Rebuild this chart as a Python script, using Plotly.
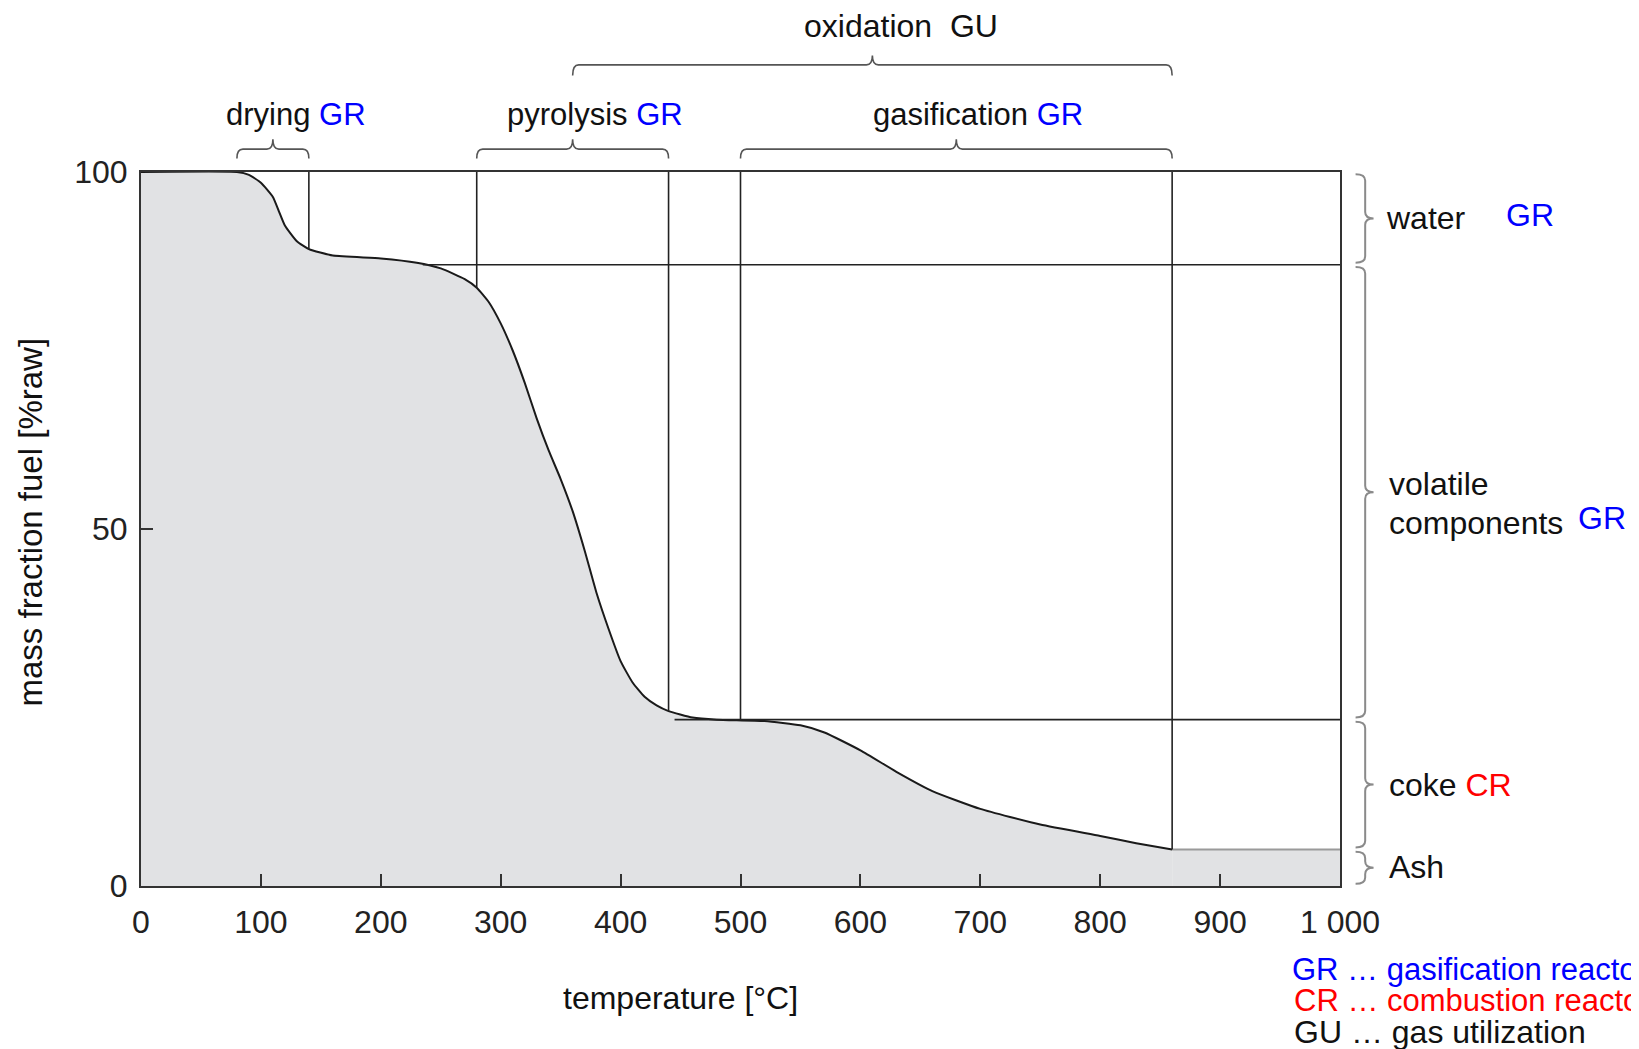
import numpy as np
import plotly.graph_objects as go

# ---- data ----
temp = [0, 80, 90, 100, 110, 115, 120, 130, 140, 160, 200, 230, 250, 270, 280, 290, 300,
        310, 320, 330, 340, 350, 360, 370, 380, 390, 400, 410, 420, 430, 440, 460, 480,
        520, 550, 570, 600, 630, 660, 700, 750, 800, 830, 860]
mass = [100, 100, 99.6, 98.5, 96.5, 94.5, 92.5, 90.3, 89.2, 88.3, 87.9, 87.3, 86.5, 85, 83.8,
        81.8, 78.8, 75, 70.5, 65.5, 61, 57, 52.5, 47, 41, 36, 31.5, 28.5, 26.5, 25.3, 24.5,
        23.6, 23.3, 23.1, 22.5, 21.5, 19, 16, 13.3, 10.8, 8.6, 7, 6, 5.1]
ash_temp = [860, 1000]
ash_mass = [5.1, 5.1]

x_ticks = [0, 100, 200, 300, 400, 500, 600, 700, 800, 900, 1000]
x_ticktext = ["0", "100", "200", "300", "400", "500", "600", "700", "800", "900", "1 000"]
y_ticks = [0, 50, 100]

boundary_temps = [140, 280, 440, 500, 860]
level_values = [87, 23.3]
level_starts = [235, 445]

phase_names = ["drying", "pyrolysis", "gasification"]
phase_ranges = [(80, 140), (280, 440), (500, 860)]
oxidation_range = (360, 860)

fraction_names = ["water", "volatile components", "coke", "Ash"]
fraction_bounds = [100, 87, 23.3, 5.1, 0]

FONT = "Liberation Sans, Arial, sans-serif"
BLUE = "#0000ff"
RED = "#ff0000"
FS = 32

fig = go.Figure()
fig.add_trace(go.Scatter(x=temp, y=mass, mode="lines",
                         line=dict(color="#1a1a1a", width=2, shape="spline", smoothing=0.5),
                         fill="tozeroy", fillcolor="#e1e2e4", showlegend=False, hoverinfo="skip"))
fig.add_trace(go.Scatter(x=ash_temp, y=ash_mass, mode="lines",
                         line=dict(color="#9a9a9a", width=2),
                         fill="tozeroy", fillcolor="#e1e2e4", showlegend=False, hoverinfo="skip"))

shapes = []
# vertical lines from curve to top
for t in boundary_temps:
    yv = float(np.interp(t, temp, mass))
    shapes.append(dict(type="line", xref="x", yref="y", x0=t, x1=t, y0=yv, y1=100,
                       line=dict(color="#222", width=1.6)))
# horizontal lines from curve to right edge
for lv, st in zip(level_values, level_starts):
    shapes.append(dict(type="line", xref="x", yref="y", x0=st, x1=1000, y0=lv, y1=lv,
                       line=dict(color="#222", width=1.6)))


def top_brace(x0, x1, yb, yt, ytip, r):
    m = (x0 + x1) / 2
    return (f"M {x0},{yb} Q {x0},{yt} {x0 + r},{yt} L {m - r},{yt} Q {m},{yt} {m},{ytip} "
            f"Q {m},{yt} {m + r},{yt} L {x1 - r},{yt} Q {x1},{yt} {x1},{yb}")


def right_brace(y0, y1, xb, xt, xtip, r):
    m = (y0 + y1) / 2
    return (f"M {xb},{y0} Q {xt},{y0} {xt},{y0 - r} L {xt},{m + r} Q {xt},{m} {xtip},{m} "
            f"Q {xt},{m} {xt},{m - r} L {xt},{y1 + r} Q {xt},{y1} {xb},{y1}")


for (a, b) in phase_ranges:
    shapes.append(dict(type="path", xref="x", yref="paper",
                       path=top_brace(a, b, 1.019, 1.032, 1.046, 5),
                       line=dict(color="#555", width=1.6)))
shapes.append(dict(type="path", xref="x", yref="paper",
                   path=top_brace(oxidation_range[0], oxidation_range[1], 1.135, 1.150, 1.163, 5),
                   line=dict(color="#555", width=1.6)))

for i in range(len(fraction_bounds) - 1):
    top = fraction_bounds[i] - 0.3
    bot = fraction_bounds[i + 1] + 0.3
    r = min(0.9, (top - bot) / 4)
    shapes.append(dict(type="path", xref="paper", yref="y",
                       path=right_brace(top, bot, 1.013, 1.021, 1.028, r),
                       line=dict(color="#8a8a8a", width=2)))

fig.update_layout(shapes=shapes)

ann = []
def A(x, y, text, xref="x", yref="paper", size=FS, color="#111", xanchor="center", angle=0):
    ann.append(dict(x=x, y=y, xref=xref, yref=yref, text=text, showarrow=False,
                    xanchor=xanchor, yanchor="middle", textangle=angle,
                    font=dict(family=FONT, size=size, color=color)))

gr = f"<span style='color:{BLUE}'>GR</span>"
cr = f"<span style='color:{RED}'>CR</span>"
A(129, 1.080, f"drying {gr}", size=31)
A(379, 1.080, f"pyrolysis {gr}", size=31)
A(698, 1.080, f"gasification {gr}", size=31)
A(634, 1.205, "oxidation  GU")

A(1.037, 93.6, "water", xref="paper", yref="y", xanchor="left")
A(1.137, 94.0, gr, xref="paper", yref="y", xanchor="left")
A(1.039, 56.3, "volatile", xref="paper", yref="y", xanchor="left")
A(1.039, 50.8, "components", xref="paper", yref="y", xanchor="left")
A(1.197, 51.5, gr, xref="paper", yref="y", xanchor="left")
A(1.039, 14.2, f"coke {cr}", xref="paper", yref="y", xanchor="left")
A(1.039, 2.7, "Ash", xref="paper", yref="y", xanchor="left")

A(0.958, -0.117, f"<span style='color:{BLUE}'>GR … gasification reactor</span>", xref="paper", yref="paper", xanchor="left", size=31)
A(0.960, -0.161, f"<span style='color:{RED}'>CR … combustion reactor</span>", xref="paper", yref="paper", xanchor="left", size=31)
A(0.960, -0.205, "GU … gas utilization", xref="paper", yref="paper", xanchor="left")

A(0.450, -0.157, "temperature [°C]", xref="paper", yref="paper")
A(-0.092, 0.51, "mass fraction fuel [%raw]", xref="paper", yref="paper", angle=-90, size=33)

fig.update_layout(annotations=ann)

# page body has an 8px margin, so the figure is offset by 8px
fig.update_layout(
    width=1631, height=1041, autosize=False,
    margin=dict(l=133, r=299, t=164, b=163),
    paper_bgcolor="white", plot_bgcolor="white",
    showlegend=False,
    font=dict(family=FONT, color="#222"),
    xaxis=dict(range=[0, 1000], tickvals=x_ticks, ticktext=x_ticktext,
               ticks="inside", ticklen=12, tickwidth=1.5, tickcolor="#333",
               showline=True, linecolor="#333", linewidth=2, mirror=True,
               showgrid=False, zeroline=False, ticklabelstandoff=7,
               tickfont=dict(family=FONT, size=FS, color="#222")),
    yaxis=dict(range=[0, 100], tickvals=y_ticks,
               ticks="inside", ticklen=12, tickwidth=1.5, tickcolor="#333",
               showline=True, linecolor="#333", linewidth=2, mirror=True,
               showgrid=False, zeroline=False, ticklabelstandoff=5,
               tickfont=dict(family=FONT, size=FS, color="#222")),
)

fig.write_html("out.html")
